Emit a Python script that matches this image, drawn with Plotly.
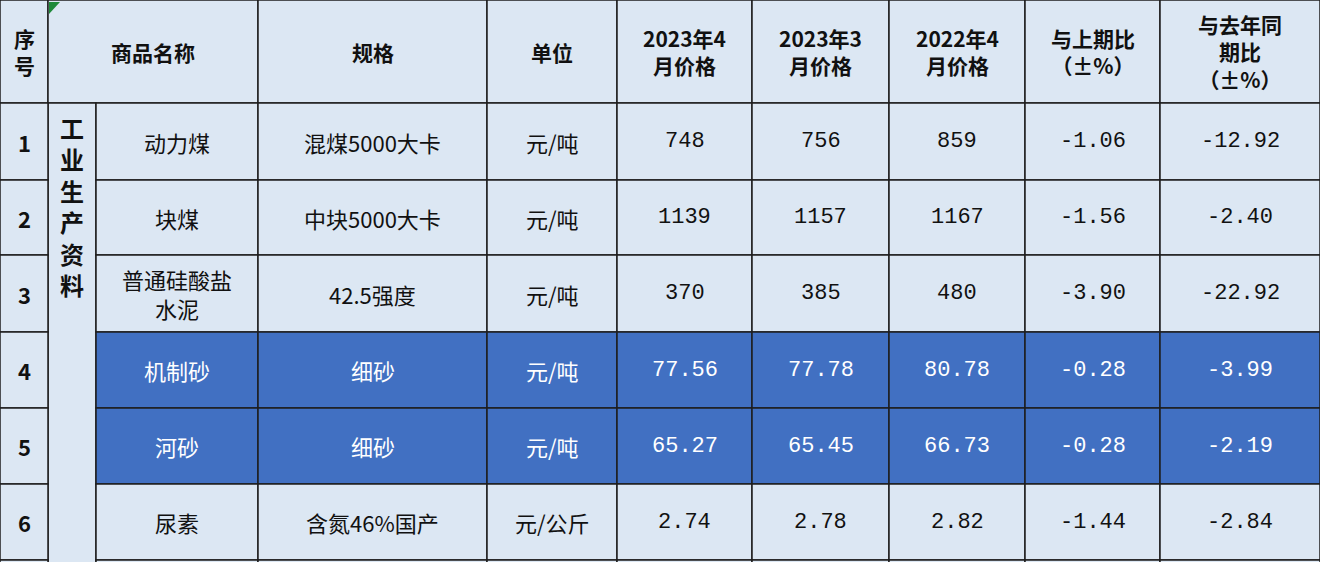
import plotly.graph_objects as go

headers = ["序<br>号", "商品名称", "规格", "单位", "2023年4<br>月价格", "2023年3<br>月价格",
           "2022年4<br>月价格", "与上期比<br>（±%）", "与去年同<br>期比<br>（±%）"]
category = ["工", "业", "生", "产", "资", "料"]
seq = ["1", "2", "3", "4", "5", "6"]
names = ["动力煤", "块煤", "普通硅酸盐<br>水泥", "机制砂", "河砂", "尿素"]
specs = ["混煤5000大卡", "中块5000大卡", "42.5强度", "细砂", "细砂", "含氮46%国产"]
units = ["元/吨", "元/吨", "元/吨", "元/吨", "元/吨", "元/公斤"]
apr23 = ["748", "1139", "370", "77.56", "65.27", "2.74"]
mar23 = ["756", "1157", "385", "77.78", "65.45", "2.78"]
apr22 = ["859", "1167", "480", "80.78", "66.73", "2.82"]
mom = ["-1.06", "-1.56", "-3.90", "-0.28", "-0.28", "-1.44"]
yoy = ["-12.92", "-2.40", "-22.92", "-3.99", "-2.19", "-2.84"]
highlight = [False, False, False, True, True, False]

# layout geometry (pixels)
W, H = 1320, 562
xs = [0, 48, 96, 258, 487, 617, 752, 889, 1025, 1160, 1320]
ys = [0, 103, 180, 255, 332, 408, 484, 560, 600]
BG = "#dce7f3"
BLUE = "#4170c2"
LINE = "#1e1e1e"

shapes = []
ann = []
font = "Noto Sans CJK SC"
numfont = "Liberation Mono, Noto Sans CJK SC"

def cell(x0, x1, y0, y1, fill):
    shapes.append(dict(type="rect", x0=x0, x1=x1, y0=y0, y1=y1, fillcolor=fill,
                       line=dict(color=LINE, width=1.5), layer="below"))

def text(x, y, t, color="#111", size=22, bold=False, fam=font):
    ann.append(dict(x=x, y=y, text=f"<b>{t}</b>" if bold else t, showarrow=False,
                    font=dict(family=fam, size=size, color=color)))

# header row: 序号 | 商品名称 (spans category+name) | rest
hdr_cols = [(xs[0], xs[1])] + [(xs[1], xs[3])] + [(xs[i], xs[i + 1]) for i in range(3, 10)]
for (x0, x1), h in zip(hdr_cols, headers):
    cell(x0, x1, ys[0], ys[1], BG)
    text((x0 + x1) / 2, (ys[0] + ys[1]) / 2, h, size=21, bold=True)

# category column merged
cell(xs[1], xs[2], ys[1], ys[8], BG)
for i, ch in enumerate(category):
    text((xs[1] + xs[2]) / 2, 127 + i * 31.5, ch, size=24, bold=True)

cols = [seq, None, names, specs, units, apr23, mar23, apr22, mom, yoy]
for r in range(6):
    y0, y1 = ys[r + 1], ys[r + 2]
    for c, vals in enumerate(cols):
        if vals is None:
            continue
        hl = highlight[r] and c >= 2
        cell(xs[c], xs[c + 1], y0, y1, BLUE if hl else BG)
        text((xs[c] + xs[c + 1]) / 2, (y0 + y1) / 2, vals[r],
             color="white" if hl else "#111", size=22, bold=(c == 0),
             fam=numfont if c >= 5 else font)
# partial bottom row
for c in [0, 2, 3, 4, 5, 6, 7, 8, 9]:
    cell(xs[c], xs[c + 1], ys[7], ys[8], BG)

# green comment marker
shapes.append(dict(type="path", path=f"M {xs[1]+1},2 L {xs[1]+12},2 L {xs[1]+1},14 Z",
                   fillcolor="#1f8a3a", line=dict(width=0)))

fig = go.Figure()
fig.update_layout(width=W, height=H, margin=dict(l=0, r=0, t=0, b=0),
                  plot_bgcolor="white", paper_bgcolor="white",
                  xaxis=dict(range=[0, W], visible=False, fixedrange=True),
                  yaxis=dict(range=[H, 0], visible=False, fixedrange=True),
                  shapes=shapes, annotations=ann, showlegend=False)
fig.write_html("out.html", config={"displayModeBar": False},
               post_script="document.body.style.margin='0';document.body.style.overflow='hidden';")
